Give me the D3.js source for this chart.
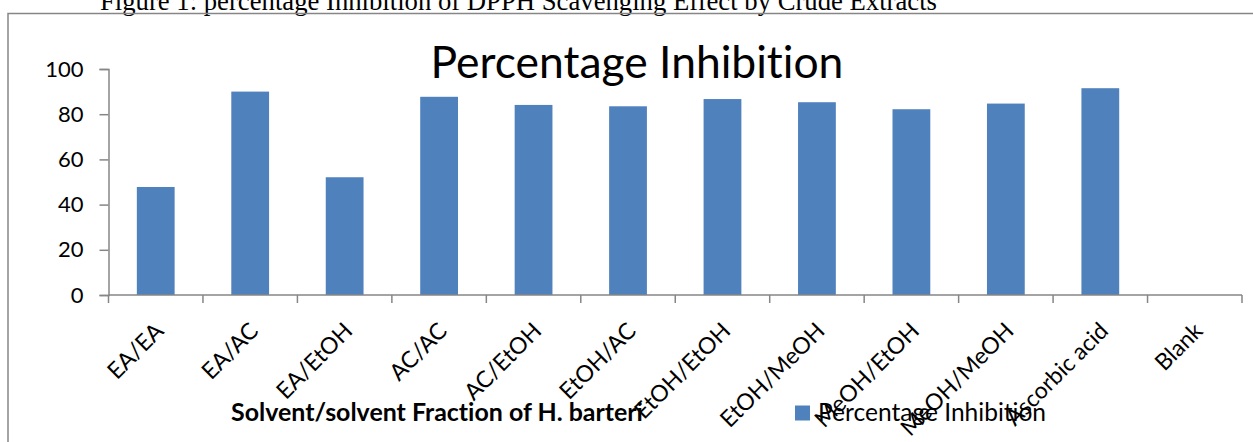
<!DOCTYPE html>
<html><head><meta charset="utf-8">
<script src="https://cdn.jsdelivr.net/npm/d3@7"></script>
<style>html,body{margin:0;padding:0;background:#fff;overflow:hidden} text{font-variant-ligatures:none;font-feature-settings:"liga" 0}</style>
</head><body>
<svg id="c" width="1253" height="442"></svg>
<script>
const categories = ["EA/EA","EA/AC","EA/EtOH","AC/AC","AC/EtOH","EtOH/AC","EtOH/EtOH","EtOH/MeOH","MeOH/EtOH","MeOH/MeOH","Ascorbic acid","Blank"];
const values = [47.8, 90.0, 52.1, 87.7, 84.1, 83.5, 86.7, 85.3, 82.2, 84.7, 91.5, 0];
const yTicks = [0, 20, 40, 60, 80, 100];
const seriesName = "Percentage Inhibition";
const chartTitle = "Percentage Inhibition";
const xTitle = "Solvent/solvent Fraction of H. barteri";
const caption = "Figure 1: percentage Inhibition of DPPH Scavenging Effect by Crude Extracts";

const svg = d3.select("#c");
const SANS = "Lato, 'Liberation Sans', sans-serif";
const axisColor = "#868686";
const barColor = "#4F81BD";

function fit(sel, target) {
  const n = sel.node();
  let fs = parseFloat(sel.style("font-size"));
  for (let i = 0; i < 3; i++) {
    const len = n.getComputedTextLength();
    fs = fs * target / len;
    sel.style("font-size", fs + "px");
  }
  return fs;
}

// caption (cut off at the top, as in the source page)
const cap = svg.append("text").attr("x", 100).attr("y", 10)
  .style("font-family", "'Liberation Serif', 'Times New Roman', serif").style("font-size", "24px")
  .attr("fill", "#000").text(caption);
fit(cap, 837);

// frame
svg.append("path").attr("d", "M8,442 V13.5 H1253").attr("fill", "none")
  .attr("stroke", axisColor).attr("stroke-width", 1.5);

const x = d3.scaleBand().domain(categories).range([108.5, 1242]).paddingInner(0.6).paddingOuter(0.3);
const y = d3.scaleLinear().domain([0, 100]).range([295, 69]);

// title
const t = svg.append("text").attr("x", 637).attr("y", 78).attr("text-anchor", "middle")
  .style("font-family", SANS).style("font-size", "36px").attr("fill", "#000").text(chartTitle);
fit(t, 413);

// bars
svg.append("g").selectAll("rect").data(values).join("rect")
  .attr("x", (d, i) => x(categories[i]))
  .attr("width", x.bandwidth())
  .attr("y", d => y(d))
  .attr("height", d => y(0) - y(d))
  .attr("fill", barColor);

// y axis
const ya = svg.append("g").attr("transform", "translate(108.5,0)")
  .call(d3.axisLeft(y).tickValues(yTicks).tickSize(9).tickPadding(16).tickFormat(d3.format("d")));
ya.select(".domain").attr("stroke", axisColor).attr("stroke-width", 1.5);
ya.selectAll(".tick line").attr("stroke", axisColor).attr("stroke-width", 1.5);
ya.selectAll(".tick text").style("font-family", SANS).style("font-size", "22px").attr("fill", "#000");

// x axis
const step = x.step();
const bounds = d3.range(categories.length + 1).map(i => 108.5 + i * step);
svg.append("line").attr("x1", 108.5).attr("x2", 1242).attr("y1", 295).attr("y2", 295)
  .attr("stroke", axisColor).attr("stroke-width", 1.5);
svg.append("g").selectAll("line").data(bounds).join("line")
  .attr("x1", d => d).attr("x2", d => d).attr("y1", 295).attr("y2", 303)
  .attr("stroke", axisColor).attr("stroke-width", 1.5);

svg.append("g").selectAll("text").data(categories).join("text")
  .attr("transform", d => `translate(${x(d) + x.bandwidth() / 2 + 3},${295 + 31}) rotate(-45)`)
  .attr("text-anchor", "end").attr("dominant-baseline", "central")
  .style("font-family", SANS).style("font-size", "23px").attr("fill", "#000")
  .text(d => d);

// x title
const xt = svg.append("text").attr("x", 437).attr("y", 421).attr("text-anchor", "middle")
  .style("font-family", SANS).style("font-weight", "bold").style("font-size", "20px")
  .attr("fill", "#000").text(xTitle);
fit(xt, 412);

// legend
svg.append("rect").attr("x", 795).attr("y", 405.5).attr("width", 15).attr("height", 15).attr("fill", barColor);
const lt = svg.append("text").attr("x", 818).attr("y", 420.5)
  .style("font-family", SANS).style("font-size", "22px").attr("fill", "#000").text(seriesName);
fit(lt, 228);
</script>
</body></html>
